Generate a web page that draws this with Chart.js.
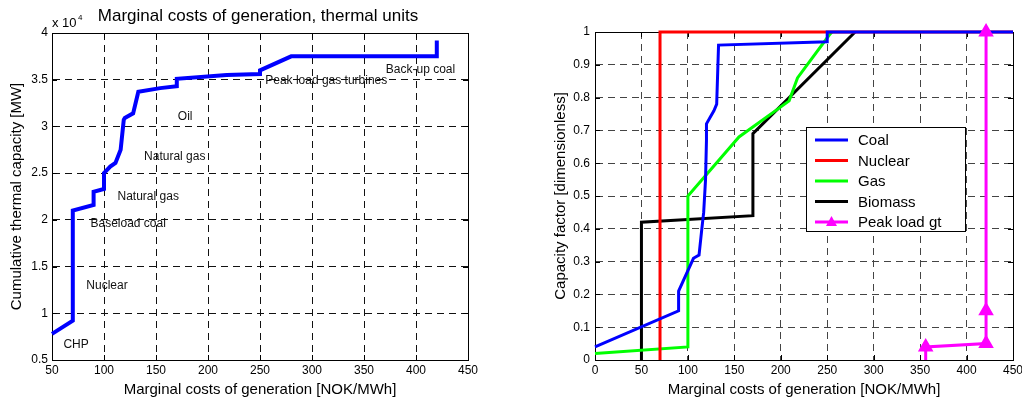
<!DOCTYPE html>
<html>
<head>
<meta charset="utf-8">
<script src="https://cdn.jsdelivr.net/npm/chart.js@4/dist/chart.umd.min.js"></script>
<style>
html, body { margin: 0; padding: 0; background: #fff; overflow: hidden; width: 1022px; height: 400px; }
#left { position: absolute; left: 0; top: 0; }
#right { position: absolute; left: 510px; top: 0; }
</style>
</head>
<body>
<canvas id="left" width="510" height="400"></canvas>
<canvas id="right" width="530" height="400"></canvas>
<script>
// ---- left: merit order curve (cost in NOK/MWh, capacity in MW)
var thermalCost = [50, 70, 70, 90, 90, 100, 100, 106, 111, 116, 119, 120, 128, 133, 154, 170, 170, 218, 250, 250, 280, 420, 420];
var thermalCap = [7800, 9200, 21000, 21600, 23000, 23300, 25000, 25700, 26100, 27500, 30700, 30900, 31400, 33700, 34100, 34300, 35100, 35500, 35600, 36000, 37500, 37500, 39200];

var unitNames = ["CHP", "Nuclear", "Baseload coal", "Natural gas", "Natural gas", "Oil", "Peak load gas turbines", "Back-up coal"];
var unitNameCost = [61, 83, 87, 113, 138.5, 171, 255, 371];
var unitNameCap = [6600, 13000, 19600, 22500, 26800, 31000, 34900, 36100];

var xTicksLeft = [50, 450, 50];      // min, max, step
var yTicksLeft = [5000, 40000, 5000];
var leftTitle = "Marginal costs of generation, thermal units";

// ---- right: capacity factor vs marginal cost
var seriesNames = ["Coal", "Nuclear", "Gas", "Biomass", "Peak load gt"];
var seriesColors = ["#0000ff", "#ff0000", "#00ff00", "#000000", "#ff00ff"];

var coalCost = [0, 90, 90, 106, 112, 115, 117, 119, 120, 120, 124, 128, 131, 133, 250, 250, 450];
var coalCF = [0.04, 0.15, 0.21, 0.31, 0.32, 0.40, 0.45, 0.55, 0.67, 0.72, 0.74, 0.76, 0.78, 0.96, 0.97, 1, 1];
var nuclearCost = [70, 70, 450];
var nuclearCF = [0, 1, 1];
var gasCost = [0, 100, 100, 155, 209, 218, 252, 255];
var gasCF = [0.02, 0.04, 0.5, 0.68, 0.79, 0.86, 0.99, 1];
var biomassCost = [50, 50, 170, 170, 280];
var biomassCF = [0, 0.42, 0.44, 0.69, 1];
var peakCost = [356, 356, 421, 421, 421];
var peakCF = [0, 0.04, 0.05, 0.15, 1];

var xTicksRight = [0, 450, 50];
var yTicksRight = [0, 1, 0.1];

Chart.defaults.font.family = "'Liberation Sans', Arial, Helvetica, sans-serif";
Chart.defaults.color = "#000";
Chart.defaults.animation = false;

function pts(xs, ys) {
    return xs.map(function(x, i) { return { x: x, y: ys[i] }; });
}

// matlab style box with inward ticks, drawn under the lines
var boxPlugin = {
    id: 'boxPlugin',
    beforeDatasetsDraw: function(chart) {
        var ctx = chart.ctx, a = chart.chartArea;
        var xs = chart.scales.x, ys = chart.scales.y;
        ctx.save();
        ctx.strokeStyle = "#000";
        ctx.lineWidth = 1;
        ctx.beginPath();
        xs.ticks.forEach(function(t) {
            var px = Math.round(xs.getPixelForValue(t.value)) + 0.5;
            ctx.moveTo(px, a.bottom); ctx.lineTo(px, a.bottom - 5);
            ctx.moveTo(px, a.top); ctx.lineTo(px, a.top + 5);
        });
        ys.ticks.forEach(function(t) {
            var py = Math.round(ys.getPixelForValue(t.value)) + 0.5;
            ctx.moveTo(a.left, py); ctx.lineTo(a.left + 5, py);
            ctx.moveTo(a.right, py); ctx.lineTo(a.right - 5, py);
        });
        ctx.stroke();
        ctx.strokeRect(Math.round(a.left) + 0.5, Math.round(a.top) + 0.5, Math.round(a.right - a.left), Math.round(a.bottom - a.top));
        ctx.restore();
    }
};

var unitLabels = {
    id: 'unitLabels',
    afterDatasetsDraw: function(chart) {
        var ctx = chart.ctx, xs = chart.scales.x, ys = chart.scales.y;
        var a = chart.chartArea;
        ctx.save();
        ctx.fillStyle = "#111";
        ctx.font = "12px 'Liberation Sans', Arial, sans-serif";
        ctx.textAlign = "left";
        ctx.textBaseline = "middle";
        unitNames.forEach(function(n, i) {
            ctx.fillText(n, xs.getPixelForValue(unitNameCost[i]), ys.getPixelForValue(unitNameCap[i]));
        });
        // exponent label
        ctx.fillStyle = "#000";
        ctx.font = "13px 'Liberation Sans', Arial, sans-serif";
        ctx.fillText("x 10", a.left, 23);
        ctx.font = "8px 'Liberation Sans', Arial, sans-serif";
        ctx.fillText("4", a.left + 26, 18);
        // title
        ctx.font = "17px 'Liberation Sans', Arial, sans-serif";
        ctx.textAlign = "center";
        ctx.fillText(leftTitle, (a.left + a.right) / 2 - 2, 16);
        ctx.restore();
    }
};

var legendBox = {
    id: 'legendBox',
    afterDraw: function(chart) {
        var ctx = chart.ctx;
        var x0 = 296, y0 = 127, w = 159, h = 104;
        ctx.save();
        ctx.fillStyle = "#fff";
        ctx.fillRect(x0, y0, w, h);
        ctx.strokeStyle = "#000";
        ctx.lineWidth = 1;
        ctx.strokeRect(x0 + 0.5, y0 + 0.5, w, h);
        ctx.font = "15px 'Liberation Sans', Arial, sans-serif";
        ctx.textBaseline = "middle";
        ctx.textAlign = "left";
        chart.data.datasets.forEach(function(ds, i) {
            var y = y0 + 13 + i * 20.5;
            ctx.strokeStyle = ds.borderColor;
            ctx.lineWidth = 3;
            ctx.beginPath();
            ctx.moveTo(x0 + 9, y);
            ctx.lineTo(x0 + 42, y);
            ctx.stroke();
            if (ds.pointStyle === 'triangle') {
                ctx.fillStyle = ds.borderColor;
                ctx.beginPath();
                ctx.moveTo(x0 + 25.5, y - 6);
                ctx.lineTo(x0 + 31, y + 4);
                ctx.lineTo(x0 + 20, y + 4);
                ctx.closePath();
                ctx.fill();
            }
            ctx.fillStyle = "#000";
            ctx.fillText(ds.label, x0 + 52, y + 1);
        });
        ctx.restore();
    }
};

function linScale(t, title, titlePad, gridColor, tickPad, fitFn) {
    return {
        type: 'linear',
        min: t[0], max: t[1],
        ticks: { stepSize: t[2], font: { size: 12 }, padding: tickPad, color: "#000" },
        grid: { color: gridColor, lineWidth: 1, drawTicks: false },
        border: { display: true, color: "#000", dash: [7, 5] },
        title: { display: true, text: title, font: { size: 15 }, padding: titlePad, color: "#000" },
        afterFit: fitFn
    };
}

// ---- left chart
var lx = linScale(xTicksLeft, "Marginal costs of generation [NOK/MWh]", { top: 0, bottom: 1 }, "#111", 3, function(s) { s.height = 40; });
var ly = linScale(yTicksLeft, "Cumulative thermal capacity [MW]", { top: 8, bottom: 0 }, "#111", 4, function(s) { s.width = 52; });
ly.ticks.callback = function(v) { return +(v / 10000).toFixed(1); };

new Chart(document.getElementById("left"), {
    type: 'line',
    data: {
        datasets: [{
            data: pts(thermalCost, thermalCap),
            borderColor: "#0000ff",
            borderWidth: 4,
            pointRadius: 0,
            tension: 0,
            fill: false,
            clip: false
        }]
    },
    options: {
        responsive: false,
        layout: { padding: { left: 0, right: 42, top: 33, bottom: 0 } },
        scales: { x: lx, y: ly },
        plugins: {
            legend: { display: false },
            tooltip: { enabled: false }
        }
    },
    plugins: [unitLabels, boxPlugin]
});

// ---- right chart
var rx = linScale(xTicksRight, "Marginal costs of generation [NOK/MWh]", { top: 0, bottom: 1 }, "#444", 3, function(s) { s.height = 40; });
var ry = linScale(yTicksRight, "Capacity factor [dimensionless]", { top: 42, bottom: 0 }, "#444", 5, function(s) { s.width = 85; });
ry.ticks.callback = function(v) { return +v.toFixed(1); };

var rightSets = [
    [coalCost, coalCF],
    [nuclearCost, nuclearCF],
    [gasCost, gasCF],
    [biomassCost, biomassCF],
    [peakCost, peakCF]
].map(function(s, i) {
    var ds = {
        label: seriesNames[i],
        data: pts(s[0], s[1]),
        borderColor: seriesColors[i],
        backgroundColor: seriesColors[i],
        borderWidth: 3,
        pointRadius: 0,
        tension: 0,
        fill: false,
        clip: false
    };
    if (i === 4) {
        ds.pointStyle = 'triangle';
        ds.pointRadius = s[1].map(function(v, k) { return k === 0 ? 0 : 6; });
        ds.order = -1;
    }
    return ds;
});

new Chart(document.getElementById("right"), {
    type: 'line',
    data: { datasets: rightSets },
    options: {
        responsive: false,
        layout: { padding: { left: 0, right: 27, top: 32, bottom: 0 } },
        scales: { x: rx, y: ry },
        plugins: {
            legend: { display: false },
            tooltip: { enabled: false }
        }
    },
    plugins: [boxPlugin, legendBox]
});
</script>
</body>
</html>
